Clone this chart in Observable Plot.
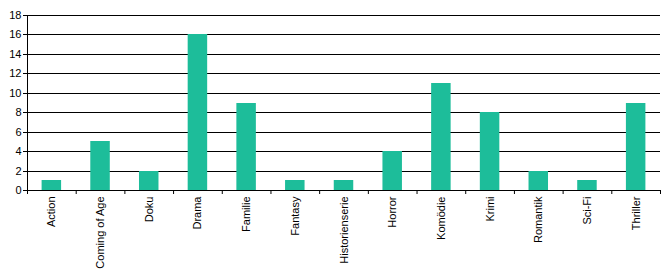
<!DOCTYPE html>
<html><head><meta charset="utf-8">
<script src="https://cdn.jsdelivr.net/npm/d3@7"></script>
<script src="https://cdn.jsdelivr.net/npm/@observablehq/plot@0.6"></script>
<style>body{margin:0;background:#fff}svg{font-family:Arial,"Liberation Sans",sans-serif}</style>
</head><body><div id="chart"></div>
<script>
const categories = ["Action","Coming of Age","Doku","Drama","Familie","Fantasy","Historienserie","Horror","Komödie","Krimi","Romantik","Sci-Fi","Thriller"];
const values = [1,5,2,16,9,1,1,4,11,8,2,1,9];
const yTicks = [0,2,4,6,8,10,12,14,16,18];

const W = 670, H = 270, ML = 27, MR = 10, MT = 15, MB = 80;
const bw = (W - ML - MR) / categories.length;
const data = categories.map((c, i) => ({cat: c, v: values[i]}));
const color = "#1dbd9a";

const chart = Plot.plot({
  width: W, height: H,
  marginLeft: ML, marginRight: MR, marginTop: MT, marginBottom: MB,
  style: {fontSize: "11px", fontFamily: "Arial, 'Liberation Sans', sans-serif", color: "#000", background: "#fff"},
  x: {domain: categories, padding: 0, round: false, label: null},
  y: {domain: [0, 18], round: true, label: null},
  marks: [
    Plot.ruleY(yTicks, {stroke: "#000", strokeWidth: 1}),
    Plot.barY(data, {x: "cat", y: "v", fill: color, insetLeft: 14.6, insetRight: 14.6}),
    Plot.axisY({ticks: yTicks, tickSize: 4, tickPadding: 2, stroke: "#000", fill: "#000", label: null, tickFormat: d => d}),
    Plot.ruleX(categories, {x: d => d, dx: -bw / 2, y1: 0, y2: -0.42, stroke: "#000"}),
    Plot.ruleX([categories[categories.length - 1]], {x: d => d, dx: bw / 2, y1: 0, y2: -0.42, stroke: "#000"}),
    Plot.ruleX([categories[0]], {x: d => d, dx: -bw / 2, y1: 0, y2: 18, stroke: "#000"}),
    Plot.axisX({tickSize: 0, tickRotate: -90, tickPadding: 6, fill: "#000", label: null})
  ]
});
document.getElementById("chart").appendChild(chart);
</script>
</body></html>
